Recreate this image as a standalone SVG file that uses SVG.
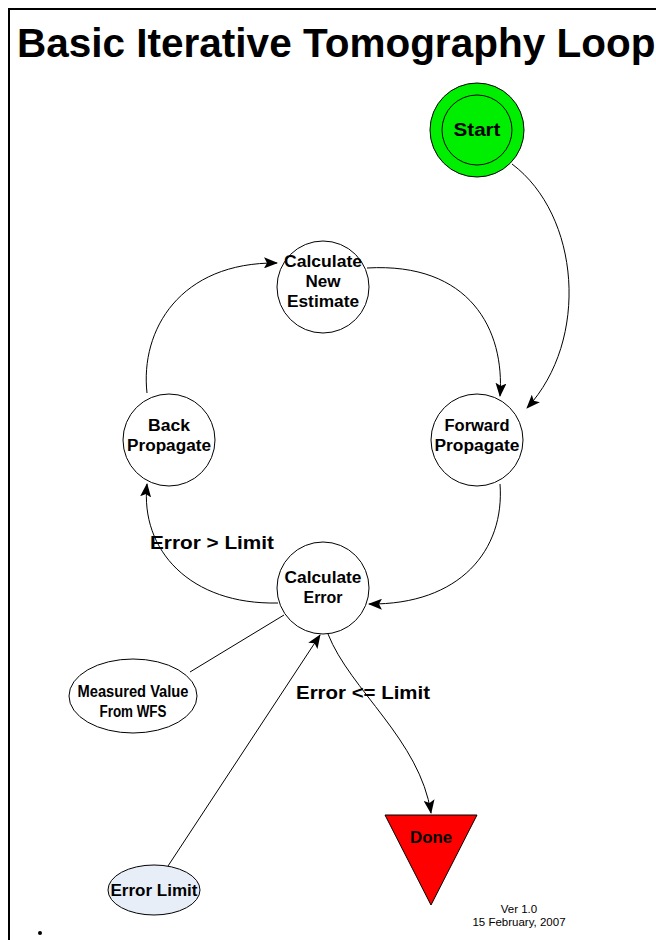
<svg xmlns="http://www.w3.org/2000/svg" width="656" height="940" viewBox="0 0 656 940">
<defs>
<marker id="ah" viewBox="0 0 14 11" refX="13" refY="5.5" markerWidth="14" markerHeight="11" markerUnits="userSpaceOnUse" orient="auto">
<path d="M0,0 L14,5.5 L0,11 L3,5.5 Z" fill="#000"/>
</marker>
<style>
.t{font-family:"Liberation Sans",Arial,sans-serif;font-weight:bold;fill:#000;text-anchor:middle}
.n{fill:#fff;stroke:#000;stroke-width:1}
.c{fill:none;stroke:#000;stroke-width:1}
.a{marker-end:url(#ah)}
.s{font-family:"Liberation Sans",Arial,sans-serif;font-size:11.5px;fill:#000;text-anchor:middle}
</style>
</defs>
<rect width="656" height="940" fill="#fff"/>
<path d="M9,940 V9 H660" fill="none" stroke="#000" stroke-width="2"/>
<text x="17" y="57" font-family="Liberation Sans, Arial, sans-serif" font-weight="bold" font-size="40.5">Basic Iterative Tomography Loop</text>

<g id="connectors">
<path class="c a" d="M512,164 C580,215 590,340 527,408"/>
<path class="c a" d="M367,268 C470,262 505,330 500,396"/>
<path class="c a" d="M500,484 C505,550 460,605 369,604"/>
<path class="c a" d="M278,603 C190,605 140,550 147,484"/>
<path class="c a" d="M147,393 C140,330 180,262 277,263"/>
<path class="c" d="M190,672 L284,615"/>
<path class="c a" d="M168,866 L320,635"/>
<path class="c a" d="M328,634 C350,690 420,740 431,813"/>
<text class="t" x="212" y="549" font-size="18" textLength="124" lengthAdjust="spacingAndGlyphs">Error &gt; Limit</text>
<text class="t" x="363" y="699" font-size="18" textLength="134" lengthAdjust="spacingAndGlyphs">Error &lt;= Limit</text>
</g>

<g id="start">
<circle cx="477" cy="130" r="47" fill="#00ee00" stroke="#000"/>
<circle cx="477" cy="130" r="35" fill="none" stroke="#000"/>
<text class="t" x="477" y="136" font-size="18" textLength="47" lengthAdjust="spacingAndGlyphs">Start</text>
</g>
<g id="calc-new-estimate">
<circle class="n" cx="323" cy="287" r="46"/>
<text class="t" x="323" y="267" font-size="16" textLength="78" lengthAdjust="spacingAndGlyphs">Calculate</text>
<text class="t" x="323" y="287" font-size="16" textLength="35" lengthAdjust="spacingAndGlyphs">New</text>
<text class="t" x="323" y="307" font-size="16" textLength="72" lengthAdjust="spacingAndGlyphs">Estimate</text>
</g>
<g id="back-propagate">
<circle class="n" cx="169" cy="440" r="46"/>
<text class="t" x="169" y="431" font-size="16" textLength="42" lengthAdjust="spacingAndGlyphs">Back</text>
<text class="t" x="169" y="451" font-size="16" textLength="84" lengthAdjust="spacingAndGlyphs">Propagate</text>
</g>
<g id="forward-propagate">
<circle class="n" cx="477" cy="440" r="46"/>
<text class="t" x="477" y="431" font-size="16" textLength="65" lengthAdjust="spacingAndGlyphs">Forward</text>
<text class="t" x="477" y="451" font-size="16" textLength="85" lengthAdjust="spacingAndGlyphs">Propagate</text>
</g>
<g id="calc-error">
<circle class="n" cx="323" cy="588" r="46"/>
<text class="t" x="323" y="583" font-size="16" textLength="77" lengthAdjust="spacingAndGlyphs">Calculate</text>
<text class="t" x="323" y="603" font-size="16" textLength="39" lengthAdjust="spacingAndGlyphs">Error</text>
</g>
<g id="measured">
<ellipse class="n" cx="133" cy="696" rx="64" ry="37"/>
<text class="t" x="133" y="697" font-size="16" textLength="111" lengthAdjust="spacingAndGlyphs">Measured Value</text>
<text class="t" x="133" y="717" font-size="16" textLength="67" lengthAdjust="spacingAndGlyphs">From WFS</text>
</g>
<g id="error-limit">
<ellipse cx="154" cy="890" rx="46" ry="25" fill="#e8eef8" stroke="#000"/>
<text class="t" x="154" y="896" font-size="16" textLength="87" lengthAdjust="spacingAndGlyphs">Error Limit</text>
</g>
<g id="done">
<polygon points="385,815 477,815 431,905" fill="#ff0000" stroke="#000"/>
<text class="t" x="431" y="843" font-size="16" textLength="42" lengthAdjust="spacingAndGlyphs">Done</text>
</g>
<text class="s" x="519" y="913">Ver 1.0</text>
<text class="s" x="519" y="926">15 February, 2007</text>
<circle cx="40" cy="933" r="2" fill="#000"/>
</svg>
